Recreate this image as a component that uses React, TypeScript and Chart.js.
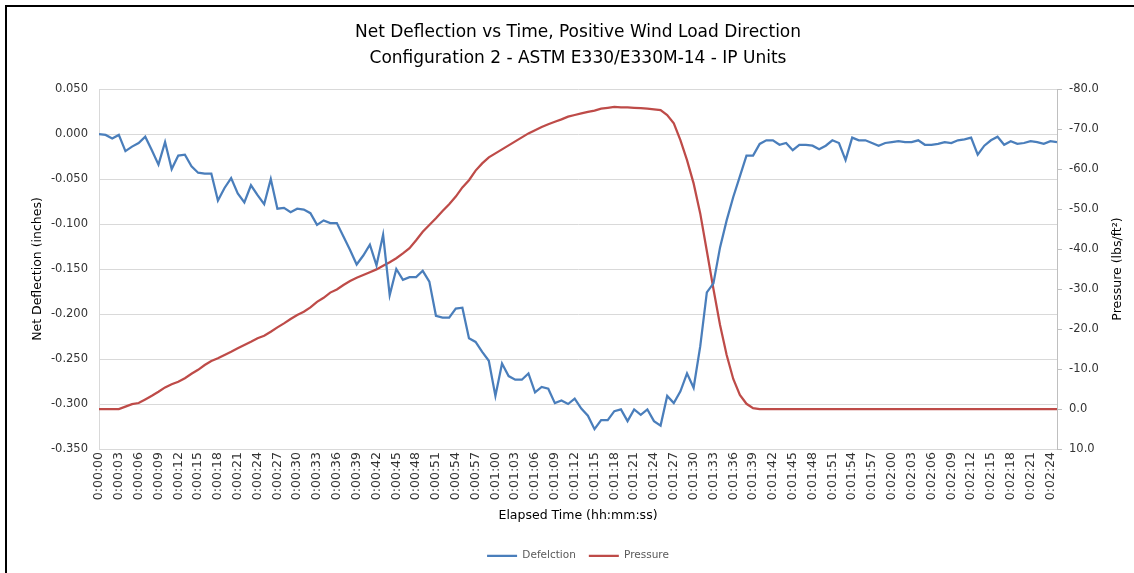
import React, { useEffect, useRef } from 'react';
import { Chart, registerables } from 'chart.js';

Chart.register(...registerables);

const FONT = "'DejaVu Sans', 'Liberation Sans', sans-serif";

const TITLE_LINES = [
  'Net Deflection vs Time, Positive Wind Load Direction',
  'Configuration 2 - ASTM E330/E330M-14 - IP Units',
];
const X_TITLE = 'Elapsed Time (hh:mm:ss)';
const Y_LEFT_TITLE = 'Net Deflection (inches)';
const Y_RIGHT_TITLE = 'Pressure (lbs/ft\u00B2)';
const SERIES_NAMES = ['Defelction', 'Pressure'];

// elapsed seconds (one reading per second, 0:00:00 .. 0:02:25)
const elapsedSeconds: number[] = Array.from({ length: 146 }, (_, i) => i);

// net deflection (inches)
const deflection: number[] = [
  0.000, -0.001, -0.005, -0.001, -0.019, -0.014, -0.010, -0.003, -0.018, -0.034,
  -0.009, -0.039, -0.024, -0.023, -0.036, -0.043, -0.044, -0.044, -0.074, -0.060,
  -0.049, -0.066, -0.076, -0.057, -0.068, -0.078, -0.050, -0.083, -0.082, -0.087,
  -0.083, -0.084, -0.088, -0.101, -0.096, -0.099, -0.099, -0.114, -0.129, -0.145,
  -0.135, -0.123, -0.146, -0.112, -0.179, -0.150, -0.162, -0.159, -0.159, -0.152,
  -0.164, -0.202, -0.204, -0.204, -0.194, -0.193, -0.227, -0.231, -0.242, -0.252,
  -0.291, -0.255, -0.269, -0.273, -0.273, -0.266, -0.287, -0.281, -0.283, -0.299,
  -0.296, -0.300, -0.294, -0.305, -0.313, -0.328, -0.318, -0.318, -0.308, -0.306,
  -0.319, -0.306, -0.312, -0.306, -0.319, -0.324, -0.291, -0.299, -0.286, -0.266,
  -0.282, -0.236, -0.176, -0.166, -0.126, -0.096, -0.070, -0.047, -0.024, -0.024,
  -0.011, -0.007, -0.007, -0.012, -0.010, -0.018, -0.012, -0.012, -0.013, -0.017,
  -0.013, -0.007, -0.010, -0.029, -0.004, -0.007, -0.007, -0.010, -0.013, -0.010,
  -0.009, -0.008, -0.009, -0.009, -0.007, -0.012, -0.012, -0.011, -0.009, -0.010,
  -0.007, -0.006, -0.004, -0.023, -0.013, -0.007, -0.003, -0.012, -0.008, -0.011,
  -0.010, -0.008, -0.009, -0.011, -0.008, -0.009,
];

// pressure (lbs/ft²)
const pressure: number[] = [
  0.0, 0.0, 0.0, 0.0, -0.6, -1.2, -1.5, -2.4, -3.3, -4.3,
  -5.4, -6.2, -6.8, -7.7, -8.8, -9.8, -11.0, -12.0, -12.7, -13.5,
  -14.3, -15.2, -16.0, -16.8, -17.7, -18.3, -19.3, -20.4, -21.4, -22.5,
  -23.5, -24.3, -25.4, -26.8, -27.8, -29.1, -29.9, -31.0, -32.0, -32.8,
  -33.5, -34.2, -34.9, -35.8, -36.7, -37.7, -38.9, -40.2, -42.2, -44.3,
  -46.0, -47.7, -49.5, -51.2, -53.1, -55.4, -57.2, -59.6, -61.4, -62.9,
  -63.9, -64.9, -65.9, -66.9, -67.9, -68.9, -69.7, -70.5, -71.2, -71.8,
  -72.4, -73.1, -73.5, -73.9, -74.3, -74.6, -75.1, -75.3, -75.5, -75.4,
  -75.4, -75.3, -75.2, -75.1, -74.9, -74.7, -73.5, -71.4, -67.2, -62.2,
  -56.4, -48.9, -39.5, -30.0, -21.0, -13.5, -7.5, -3.5, -1.3, -0.2,
  0.0, 0.0, 0.0, 0.0, 0.0, 0.0, 0.0, 0.0, 0.0, 0.0,
  0.0, 0.0, 0.0, 0.0, 0.0, 0.0, 0.0, 0.0, 0.0, 0.0,
  0.0, 0.0, 0.0, 0.0, 0.0, 0.0, 0.0, 0.0, 0.0, 0.0,
  0.0, 0.0, 0.0, 0.0, 0.0, 0.0, 0.0, 0.0, 0.0, 0.0,
  0.0, 0.0, 0.0, 0.0, 0.0, 0.0,
];

const fmtTime = (s: number) => {
  const h = Math.floor(s / 3600);
  const m = Math.floor((s % 3600) / 60);
  const sec = Math.round(s % 60);
  return `${h}:${String(m).padStart(2, '0')}:${String(sec).padStart(2, '0')}`;
};

const axisTitlesPlugin = {
  id: 'axisTitles',
  afterDraw(chart: any) {
    const { ctx, chartArea } = chart;
    const cy = (chartArea.top + chartArea.bottom) / 2;
    const cx = (chartArea.left + chartArea.right) / 2;
    ctx.save();
    ctx.fillStyle = '#000000';
    ctx.font = `12.5px ${FONT}`;
    ctx.textAlign = 'center';
    ctx.textBaseline = 'middle';
    ctx.save();
    ctx.translate(38, cy);
    ctx.rotate(-Math.PI / 2);
    ctx.fillText(Y_LEFT_TITLE, 0, 0);
    ctx.restore();
    ctx.save();
    ctx.translate(1118, cy);
    ctx.rotate(-Math.PI / 2);
    ctx.fillText(Y_RIGHT_TITLE, 0, 0);
    ctx.restore();
    ctx.fillText(X_TITLE, cx, 516);
    ctx.restore();
  },
};

export default function App() {
  const canvasRef = useRef<HTMLCanvasElement | null>(null);

  useEffect(() => {
    if (!canvasRef.current) return;
    const chart = new Chart(canvasRef.current, {
      type: 'line',
      data: {
        labels: elapsedSeconds,
        datasets: [
          {
            label: SERIES_NAMES[0],
            data: deflection,
            borderColor: '#4A7EBB',
            backgroundColor: '#4A7EBB',
            borderWidth: 2.25,
            pointRadius: 0,
            tension: 0,
            yAxisID: 'y',
          },
          {
            label: SERIES_NAMES[1],
            data: pressure,
            borderColor: '#BE4B48',
            backgroundColor: '#BE4B48',
            borderWidth: 2.25,
            pointRadius: 0,
            tension: 0,
            yAxisID: 'y1',
          },
        ],
      },
      options: {
        responsive: false,
        animation: false,
        devicePixelRatio: 1,
        layout: { padding: { top: 0, left: 0, right: 0, bottom: 2 } },
        plugins: {
          title: {
            display: true,
            text: TITLE_LINES,
            fullSize: false,
            color: '#000000',
            font: { family: FONT, size: 17, weight: 'normal', lineHeight: 26 / 17 },
            padding: { top: 20, bottom: 17 },
          },
          legend: {
            display: true,
            position: 'bottom',
            fullSize: false,
            labels: {
              usePointStyle: true,
              pointStyle: 'line',
              pointStyleWidth: 30,
              color: '#595959',
              font: { family: FONT, size: 10.5 },
              padding: 13,
            },
          },
          tooltip: { enabled: false },
        },
        scales: {
          x: {
            type: 'linear',
            min: 0,
            max: 145,
            grid: { display: false, drawTicks: false },
            border: { display: true, color: '#D9D9D9', width: 1 },
            ticks: {
              stepSize: 3,
              includeBounds: false,
              autoSkip: false,
              maxTicksLimit: 60,
              minRotation: 90,
              maxRotation: 90,
              padding: 3,
              color: '#333333',
              font: { family: FONT, size: 12.5 },
              callback: (v: any) => fmtTime(Number(v)),
            },
            afterFit: (scale: any) => {
              scale.height = 88.5;
            },
          },
          y: {
            type: 'linear',
            position: 'left',
            min: -0.35,
            max: 0.05,
            grid: { display: true, color: '#D9D9D9', drawTicks: false },
            border: { display: true, color: '#D9D9D9', width: 1 },
            ticks: {
              stepSize: 0.05,
              padding: 11,
              color: '#333333',
              font: { family: FONT, size: 11.5 },
              callback: (v: any) => {
                const n = Math.abs(Number(v)) < 1e-9 ? 0 : Number(v);
                return n.toFixed(3);
              },
            },
            afterFit: (scale: any) => {
              scale.width = 99;
            },
          },
          y1: {
            type: 'linear',
            position: 'right',
            min: -80,
            max: 10,
            reverse: true,
            grid: { display: true, drawOnChartArea: false, drawTicks: true, tickLength: 5, color: '#BFBFBF' },
            border: { display: true, color: '#BFBFBF', width: 1 },
            ticks: {
              stepSize: 10,
              padding: 7,
              color: '#333333',
              font: { family: FONT, size: 11.5 },
              callback: (v: any) => Number(v).toFixed(1),
            },
            afterFit: (scale: any) => {
              scale.width = 77;
            },
          },
        },
      },
      plugins: [axisTitlesPlugin],
    } as any);
    return () => chart.destroy();
  }, []);

  return (
    <div
      style={{
        position: 'absolute',
        left: 0,
        top: 0,
        width: 1134,
        height: 573,
        overflow: 'hidden',
        background: '#ffffff',
      }}
    >
      <canvas ref={canvasRef} width={1134} height={573} style={{ width: 1134, height: 573, display: 'block' }} />
      <div
        style={{
          position: 'absolute',
          left: 5,
          top: 5,
          width: 1200,
          height: 620,
          borderLeft: '2px solid #000',
          borderTop: '2px solid #000',
          pointerEvents: 'none',
        }}
      />
    </div>
  );
}
